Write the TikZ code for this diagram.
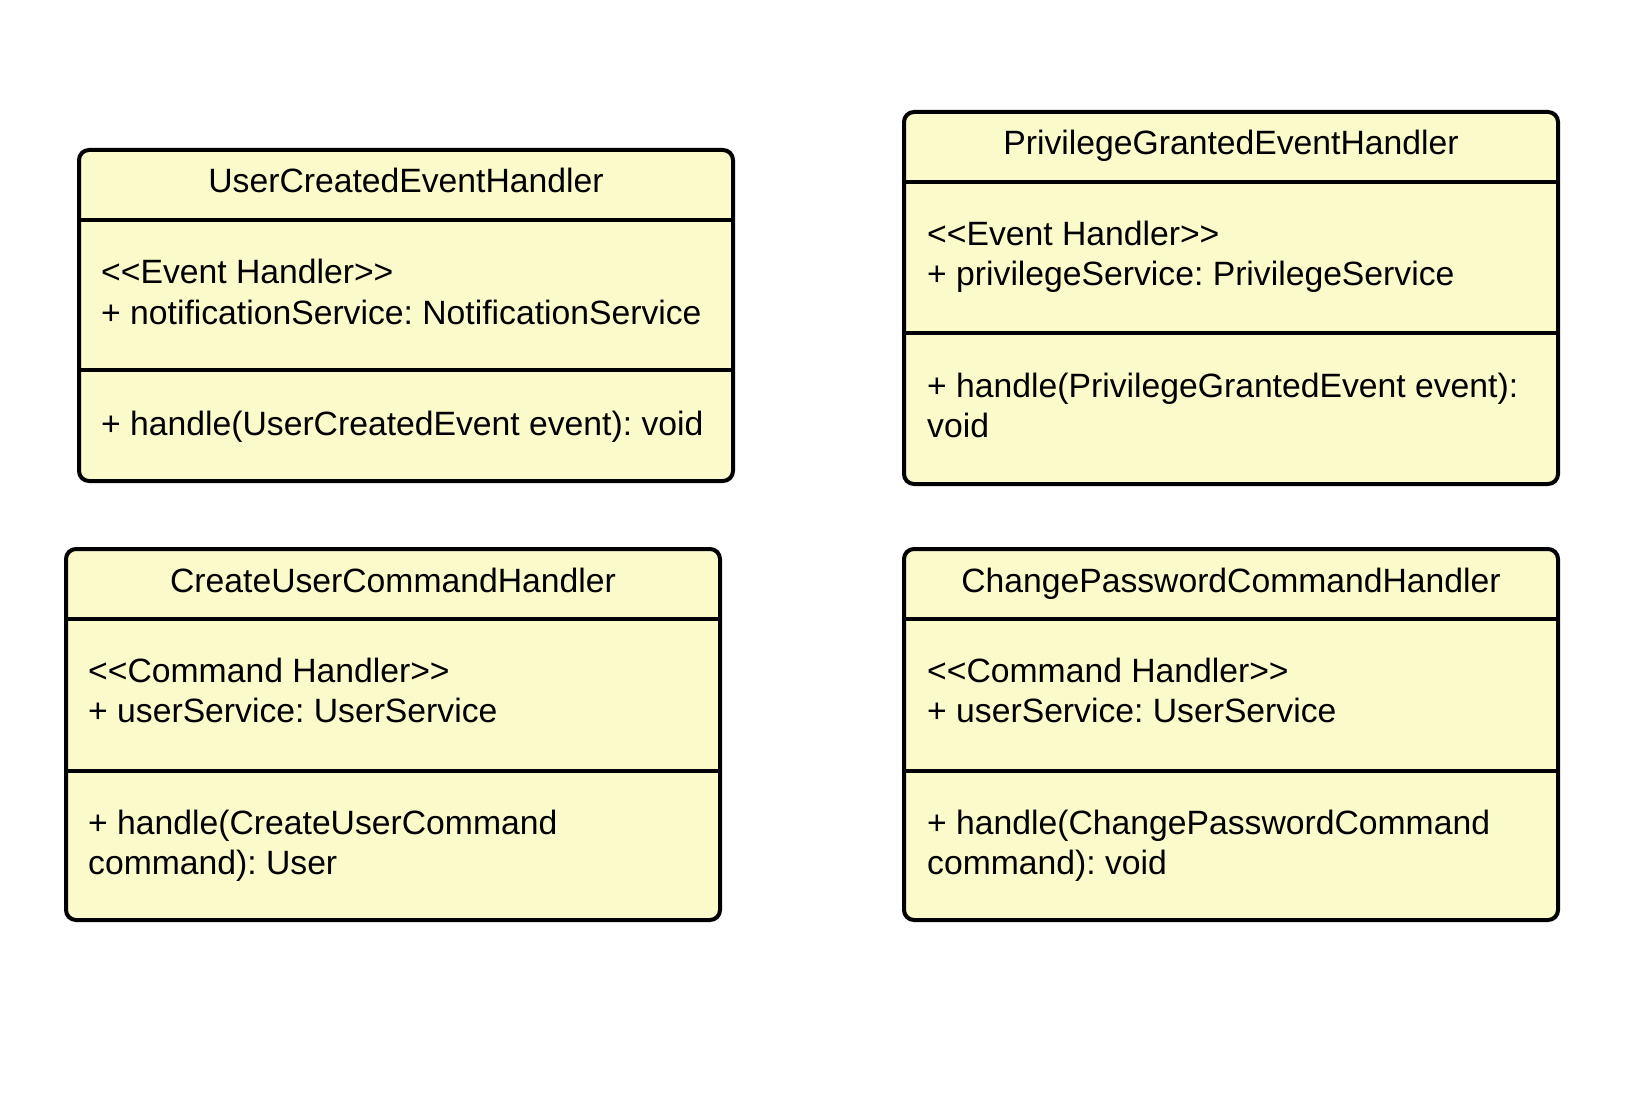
\documentclass[tikz,border=0pt]{standalone}
\usepackage{fontspec}
\setmainfont{Liberation Sans}
\frenchspacing
\definecolor{classfill}{RGB}{251,250,202}
\newcommand{\stereo}[1]{<\kern0pt<#1>\kern0pt>}
\tikzset{
  classbox/.style={draw=black,line width=4pt,fill=classfill,rounded corners=10pt},
  divider/.style={line width=4pt},
  classname/.style={font=\fontsize{33.7}{40}\selectfont,inner sep=0pt,anchor=base},
  classtext/.style={font=\fontsize{33.7}{40}\selectfont,inner sep=0pt,align=left,anchor=base west}
}
\begin{document}
\begin{tikzpicture}[x=1pt,y=-1pt]
	\useasboundingbox (0,0) rectangle (1633,1099);
	% UserCreatedEventHandler
	\draw[classbox] (79,150) rectangle (733,481);
	\draw[divider] (79,220) -- (733,220);
	\draw[divider] (79,370) -- (733,370);
	\node[classname] (uceh) at (406,193) {UserCreatedEventHandler};
	\node[classtext] (uceh attr) at (101,324) {\stereo{Event Handler}\\+ notificationService: NotificationService};
	\node[classtext] (uceh ops) at (101,435) {+ handle(UserCreatedEvent event): void};
	% PrivilegeGrantedEventHandler
	\draw[classbox] (904,112) rectangle (1558,484);
	\draw[divider] (904,182) -- (1558,182);
	\draw[divider] (904,333) -- (1558,333);
	\node[classname] (pgeh) at (1231,155) {PrivilegeGrantedEventHandler};
	\node[classtext] (pgeh attr) at (927,286) {\stereo{Event Handler}\\+ privilegeService: PrivilegeService};
	\node[classtext] (pgeh ops) at (927,437) {+ handle(PrivilegeGrantedEvent event):\\void};
	% CreateUserCommandHandler
	\draw[classbox] (66,549) rectangle (720,920);
	\draw[divider] (66,619) -- (720,619);
	\draw[divider] (66,771) -- (720,771);
	\node[classname] (cuch) at (393,592) {CreateUserCommandHandler};
	\node[classtext] (cuch attr) at (88,722) {\stereo{Command Handler}\\+ userService: UserService};
	\node[classtext] (cuch ops) at (88,874) {+ handle(CreateUserCommand\\command): User};
	% ChangePasswordCommandHandler
	\draw[classbox] (904,549) rectangle (1558,920);
	\draw[divider] (904,619) -- (1558,619);
	\draw[divider] (904,771) -- (1558,771);
	\node[classname] (cpch) at (1231,592) {ChangePasswordCommandHandler};
	\node[classtext] (cpch attr) at (927,722) {\stereo{Command Handler}\\+ userService: UserService};
	\node[classtext] (cpch ops) at (927,874) {+ handle(ChangePasswordCommand\\command): void};
\end{tikzpicture}
\end{document}
